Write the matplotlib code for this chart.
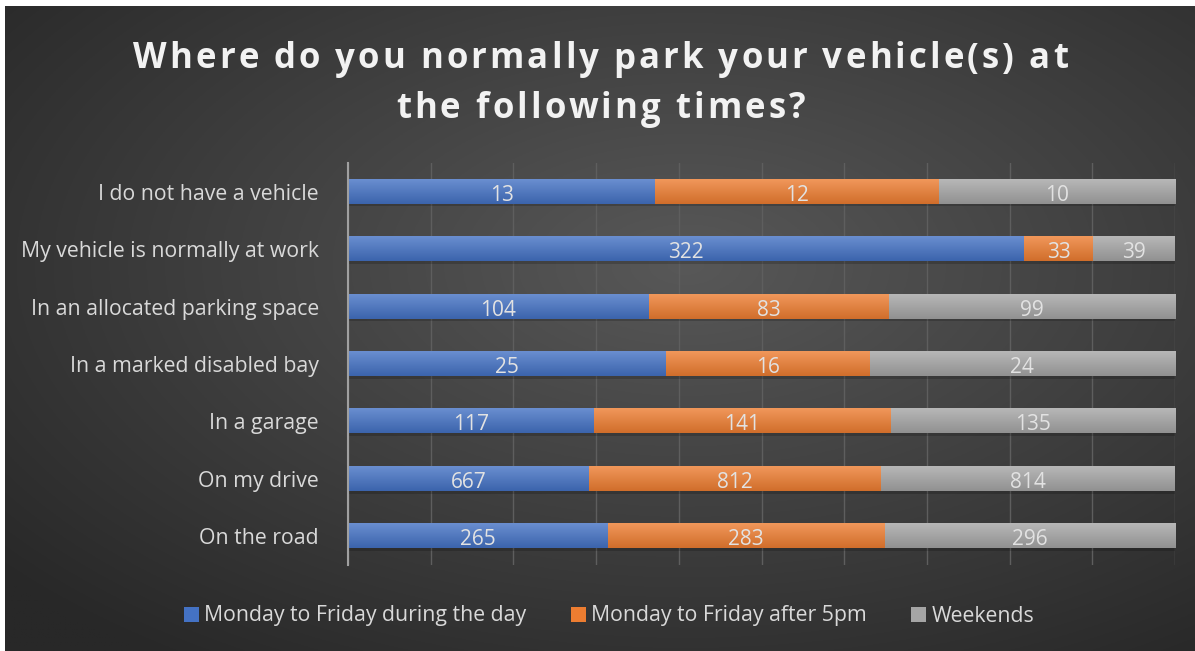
import numpy as np
import matplotlib
matplotlib.use("Agg")
import matplotlib.pyplot as plt
from matplotlib.colors import to_rgb
from matplotlib.font_manager import FontProperties

categories = ["I do not have a vehicle", "My vehicle is normally at work",
              "In an allocated parking space", "In a marked disabled bay",
              "In a garage", "On my drive", "On the road"]
series_names = ["Monday to Friday during the day", "Monday to Friday after 5pm", "Weekends"]
weekday_day = [13, 322, 104, 25, 117, 667, 265]
weekday_eve = [12, 33, 83, 16, 141, 812, 283]
weekends = [10, 39, 99, 24, 135, 814, 296]
colors = ["#4472C4", "#ED7D31", "#A5A5A5"]
title_lines = ["Where do you normally park your vehicle(s) at", "the following times?"]

W, H = 1195, 651
fig = plt.figure(figsize=(W / 100, H / 100), dpi=100)
fig.patch.set_facecolor("white")
font = ["Open Sans", "DejaVu Sans"]

# background radial gradient
bg = fig.add_axes([5 / W, 0, 1 - 5 / W, 1 - 6 / H])
bg.set_axis_off()
yy, xx = np.mgrid[0:400, 0:700]
cx, cy = 400, 160
d = np.sqrt(((xx - cx) / 700) ** 2 + ((yy - cy) / 400) ** 2)
d = np.clip(d / 0.75, 0, 1)
inner, outer = 0x58 / 255, 0x28 / 255
val = inner + (outer - inner) * d
bg.imshow(np.dstack([val, val, val]), aspect="auto", extent=[0, 1, 0, 1], origin="upper")
bg.set_xlim(0, 1)
bg.set_ylim(0, 1)

ax = fig.add_axes([348 / W, 1 - 565 / H, (1175 - 348) / W, (565 - 163) / H])
ax.set_facecolor("none")

data = np.array([weekday_day, weekday_eve, weekends], dtype=float)
totals = data.sum(axis=0)
pct = data / totals * 100
y = np.arange(len(categories))
left = np.zeros(len(categories))
bh = 0.42
for i in range(3):
    base = np.array(to_rgb(colors[i]))
    top = base + (1 - base) * 0.2
    bot = base * 0.88
    t = np.linspace(0, 1, 32)[:, None, None]
    grad = top[None, None, :] * (1 - t) + bot[None, None, :] * t
    ax.barh(y, pct[i], left=left, height=bh, color=colors[i], zorder=3,
            label=series_names[i])
    for j in range(len(categories)):
        x0, x1 = left[j], left[j] + pct[i][j]
        ax.barh(y[j] + 0.045, pct[i][j], left=left[j], height=bh, color="black",
                alpha=0.18, zorder=2, linewidth=0)
        ax.imshow(grad, extent=(x0, x1, y[j] + bh / 2, y[j] - bh / 2),
                  aspect="auto", zorder=3.5, interpolation="bilinear")
        ax.text((x0 + x1) / 2, y[j] + 0.06, str(int(data[i][j])),
                ha="center", va="center", color="#e2e2e2", fontsize=15,
                family=font, zorder=4)
    left += pct[i]

ax.set_aspect("auto")
ax.set_xlim(0, 100)
ax.set_ylim(len(categories) - 0.5, -0.5)
ax.set_xticks(np.arange(0, 101, 10))
ax.xaxis.grid(True, color="#5e5e5e", linewidth=1, zorder=0)
ax.tick_params(axis="x", length=0, labelbottom=False)
ax.tick_params(axis="y", length=0, pad=21)
ax.set_yticks(y)
ax.set_yticklabels(categories, color="#d9d9d9", fontsize=15.3, family=font)
for s in ["top", "right", "bottom"]:
    ax.spines[s].set_visible(False)
ax.spines["left"].set_color("#a0a0a0")
ax.spines["left"].set_linewidth(1.5)
ax.spines["left"].set_zorder(5)

# title with letter spacing
renderer = fig.canvas.get_renderer()
fp = FontProperties(family=font, weight="bold", size=25)
track = 3.1  # px
def w_of(s):
    if not s:
        return 0.0
    wl, _, _ = renderer.get_text_width_height_descent("l", fp, ismath=False)
    ws, _, _ = renderer.get_text_width_height_descent(s + "l", fp, ismath=False)
    return ws - wl

for line, yc in zip(title_lines, [55, 105]):
    total = w_of(line) + track * (len(line) - 1)
    x_start = W / 2 + 3 - total / 2
    for k, ch in enumerate(line):
        if ch == " ":
            continue
        xp = x_start + w_of(line[:k]) + track * k
        fig.text(xp / W, 1 - yc / H, ch, ha="left", va="center_baseline",
                 color="#f2f2f2", fontproperties=fp)

leg = fig.legend(loc="center", bbox_to_anchor=(609 / W, 1 - 616 / H), ncol=3,
                 frameon=False, prop={"family": font, "size": 15.3},
                 handlelength=0.7, handleheight=0.7, handletextpad=0.25,
                 columnspacing=2.1)
for t in leg.get_texts():
    t.set_color("#d9d9d9")

fig.savefig("out.png", dpi=100, facecolor=fig.get_facecolor())
